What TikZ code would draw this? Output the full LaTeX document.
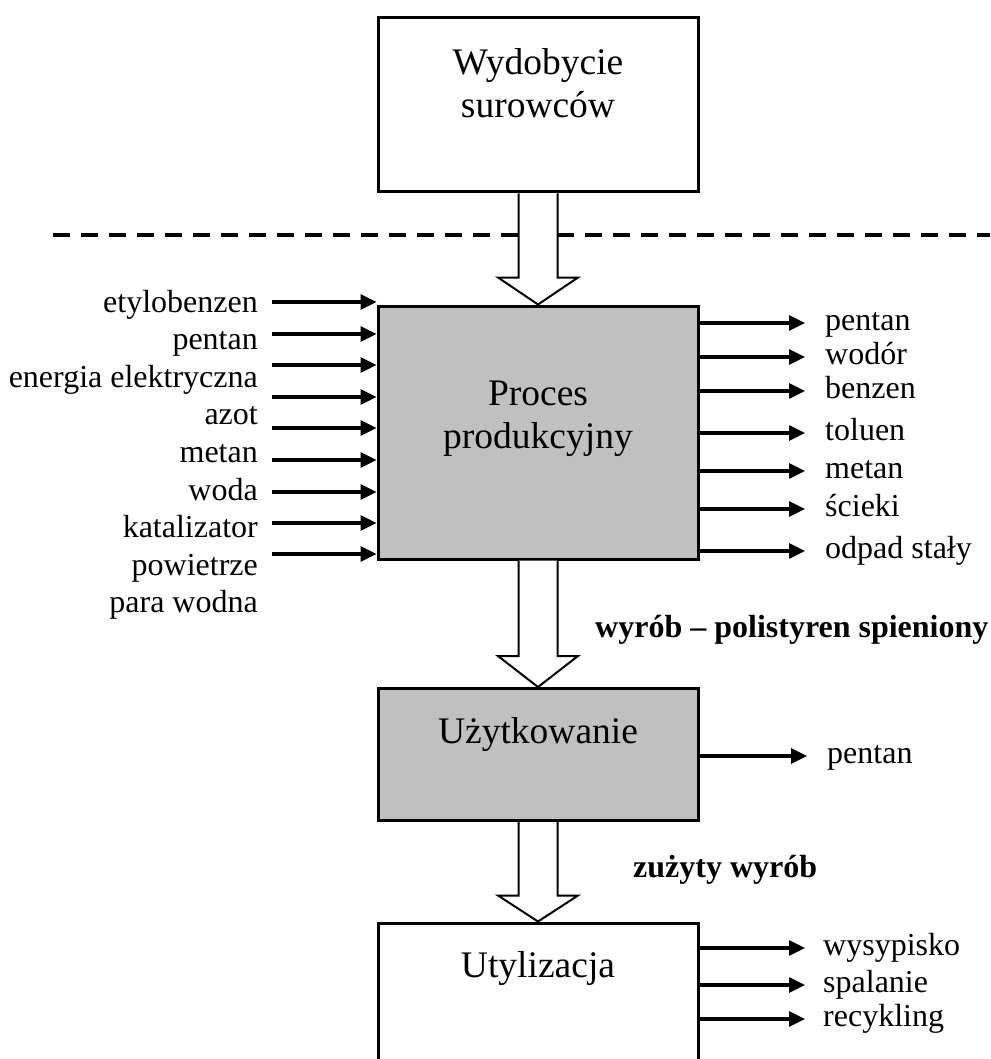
\documentclass[tikz,border=0pt]{standalone}
\usepackage{fontspec}
\setmainfont{Liberation Serif}
\usetikzlibrary{arrows.meta,calc}
\definecolor{boxgray}{HTML}{C0C0C0}
\begin{document}
\begin{tikzpicture}[x=1pt,y=-1pt,
  boxnode/.style={draw=black,line width=3pt,rectangle,inner sep=0pt,minimum width=320pt},
  graybox/.style={boxnode,fill=boxgray},
  whitebox/.style={boxnode,fill=white},
  title/.style={font=\fontsize{37.5}{43}\selectfont,inner sep=0pt,align=center},
  lbl/.style={font=\fontsize{32}{38}\selectfont,inner sep=0pt},
  blbl/.style={font=\fontsize{32}{38}\selectfont\bfseries,inner sep=0pt},
  flow/.style={line width=3.2pt,-{Triangle[length=16pt,width=15pt]}},
  blk/.style={draw=black,line width=2pt,fill=white,line join=miter},
  sep/.style={line width=4.5pt,dash pattern=on 17pt off 11pt}
]
\useasboundingbox (0,0) rectangle (990,1059);
\clip (0,0) rectangle (990,1059);

% dashed separator
\coordinate (sepL) at (53,235);
\coordinate (sepR) at (990,235);
\draw[sep] (sepL) -- (sepR);

% boxes
\node[whitebox,minimum height=174pt] (top) at (538,105) {};
\node[graybox,minimum height=253pt] (proc) at (538,432.5) {};
\node[graybox,minimum height=132pt] (uz) at (538,754.5) {};
\node[whitebox,minimum height=160pt] (uty) at (538,1003) {};

% titles
\node[title,anchor=base] (t1a) at (538,75) {Wydobycie};
\node[title,anchor=base] (t1b) at (538,118) {surowców};
\node[title,anchor=base] (t2a) at (538,405) {Proces};
\node[title,anchor=base] (t2b) at (538,448) {produkcyjny};
\node[title,anchor=base] (t3) at (538,743) {Użytkowanie};
\node[title,anchor=base] (t4) at (538,977) {Utylizacja};

% block arrows
\draw[blk] ($(top.south)+(-19.5,0)$) -- ($(proc.north)+(-19.5,-27)$) -- ($(proc.north)+(-40,-27)$)
  -- (proc.north) -- ($(proc.north)+(40,-27)$) -- ($(proc.north)+(19.5,-27)$) -- ($(top.south)+(19.5,0)$);
\draw[blk] ($(proc.south)+(-19.5,0)$) -- ($(uz.north)+(-19.5,-31)$) -- ($(uz.north)+(-40,-31)$)
  -- (uz.north) -- ($(uz.north)+(40,-31)$) -- ($(uz.north)+(19.5,-31)$) -- ($(proc.south)+(19.5,0)$);
\draw[blk] ($(uz.south)+(-19.5,0)$) -- ($(uty.north)+(-19.5,-26)$) -- ($(uty.north)+(-40,-26)$)
  -- (uty.north) -- ($(uty.north)+(40,-26)$) -- ($(uty.north)+(19.5,-26)$) -- ($(uz.south)+(19.5,0)$);

% inputs
\foreach \y/\t [count=\i] in {302/etylobenzen,334/pentan,365/energia elektryczna,397/azot,428/metan,460/woda,492/katalizator,523/powietrze,554/para wodna}{
  \coordinate (in\i) at (272,\y);
  \draw[flow] (in\i) -- (in\i -| proc.west);
  \node[lbl,anchor=base east] (inl\i) at ({258},{312+37.6*(\i-1)}) {\t};
}

% process outputs
\foreach \y/\t [count=\i] in {323/pentan,357/wodór,391/benzen,433/toluen,471/metan,509/ścieki,551/odpad stały}{
  \coordinate (out\i) at (805,\y);
  \draw[flow] (out\i -| proc.east) -- (out\i);
  \node[lbl,anchor=base west] (outl\i) at (825,\y+7) {\t};
}

% use output
\coordinate (uo) at (807,756);
\draw[flow] (uo -| uz.east) -- (uo);
\node[lbl,anchor=base west] (uol) at (827,763) {pentan};

% disposal outputs
\foreach \y/\t [count=\i] in {948/wysypisko,985/spalanie,1019/recykling}{
  \coordinate (do\i) at (805,\y);
  \draw[flow] (do\i -| uty.east) -- (do\i);
  \node[lbl,anchor=base west] (dol\i) at (823,\y+7) {\t};
}

% bold labels
\node[blbl,anchor=base west] (prod) at (595,637) {wyrób – polistyren spieniony};
\node[blbl,anchor=base west] (used) at (633,877) {zużyty wyrób};
\end{tikzpicture}
\end{document}
